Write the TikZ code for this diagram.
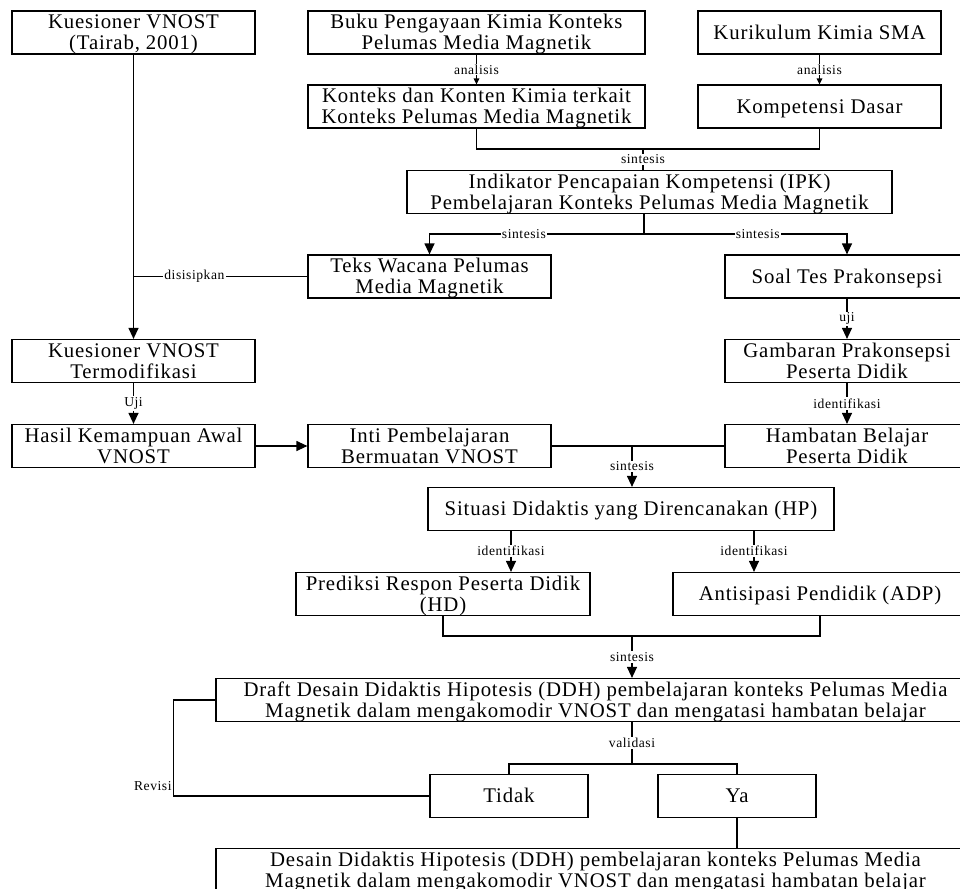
\documentclass[tikz,border=0pt]{standalone}
\usepackage{fontspec}
\setmainfont{Liberation Serif}[LetterSpace=4]
\usetikzlibrary{
    arrows.meta,
    positioning,
    calc
}
\tikzstyle{stage} = [
    rectangle,
    draw=black,
    line width=0.6pt,
    minimum height=21.5pt,
    inner sep=0pt,
    align=center,
    text height=6.9pt,
    text depth=0pt,
    font=\fontsize{10.4}{10.5}\selectfont
]
\tikzstyle{pair} = [
    text height=17.4pt
]
\tikzstyle{arrow} = [
    -{Triangle[length=5.5pt,width=5pt]},
    line width=0.6pt,
    draw=black
]
\tikzstyle{smallarrow} = [
    -{Triangle[length=3pt,width=2.8pt]},
    line width=0.6pt,
    draw=black
]
\tikzstyle{link} = [
    line width=0.6pt,
    draw=black
]
\tikzstyle{tag} = [
    fill=white,
    inner sep=0.6pt,
    font=\fontsize{6.8}{6.8}\selectfont
]
\begin{document}
\begin{tikzpicture}[x=0.5pt, y=-0.5pt]
    \useasboundingbox (0,0) rectangle (960,889);
    \clip (0,0) rectangle (960,889);
    % top row
    \node[stage, pair, minimum width=121.5pt] (kuesioner) at (133.5,32.5) {Kuesioner VNOST\\(Tairab, 2001)};
    \node[stage, pair, minimum width=168.5pt] (buku) at (476.5,32.5) {Buku Pengayaan Kimia Konteks\\Pelumas Media Magnetik};
    \node[stage, minimum width=121.5pt] (kurikulum) at (819.5,32.5) {Kurikulum Kimia SMA};
    \node[stage, pair, minimum width=168.5pt] (konten) at (476.5,106.5) {Konteks dan Konten Kimia terkait\\Konteks Pelumas Media Magnetik};
    \node[stage, minimum width=121.5pt] (kd) at (819.5,106.5) {Kompetensi Dasar};
    \node[stage, pair, minimum width=242.5pt] (ipk) at (649.5,192) {Indikator Pencapaian Kompetensi (IPK)\\Pembelajaran Konteks Pelumas Media Magnetik};
    % middle
    \node[stage, pair, minimum width=121.5pt] (wacana) at (429.5,276.5) {Teks Wacana Pelumas\\Media Magnetik};
    \node[stage, minimum width=122pt] (soal) at (847,276.5) {Soal Tes Prakonsepsi};
    \node[stage, pair, minimum width=121.5pt] (modif) at (133.5,361) {Kuesioner VNOST\\Termodifikasi};
    \node[stage, pair, minimum width=122pt] (gambaran) at (847,361) {Gambaran Prakonsepsi\\Peserta Didik};
    \node[stage, pair, minimum width=121.5pt] (hasil) at (133.5,446) {Hasil Kemampuan Awal\\VNOST};
    \node[stage, pair, minimum width=121.5pt] (inti) at (429.5,446) {Inti Pembelajaran\\Bermuatan VNOST};
    \node[stage, pair, minimum width=122pt] (hambatan) at (847,446) {Hambatan Belajar\\Peserta Didik};
    % lower part
    \node[stage, minimum width=203pt] (situasi) at (631,509) {Situasi Didaktis yang Direncanakan (HP)};
    \node[stage, pair, minimum width=147pt] (prediksi) at (443,594) {Prediksi Respon Peserta Didik\\(HD)};
    \node[stage, minimum width=147pt] (antisipasi) at (820,594) {Antisipasi Pendidik (ADP)};
    \node[stage, pair, minimum width=379.5pt] (draft) at (595.5,700) {Draft Desain Didaktis Hipotesis (DDH) pembelajaran konteks Pelumas Media\\Magnetik dalam mengakomodir VNOST dan mengatasi hambatan belajar};
    \node[stage, minimum width=79pt] (tidak) at (509,796) {Tidak};
    \node[stage, minimum width=79pt] (ya) at (737,796) {Ya};
    \node[stage, pair, minimum width=379.5pt] (desain) at (595.5,870) {Desain Didaktis Hipotesis (DDH) pembelajaran konteks Pelumas Media\\Magnetik dalam mengakomodir VNOST dan mengatasi hambatan belajar};

    \coordinate (join1) at (643,149);
    \coordinate (split1) at (644,234);
    \coordinate (join2) at (632,446);
    \coordinate (hpL) at (511,530);
    \coordinate (hpR) at (754,530);
    \coordinate (join3) at (632,636);
    \coordinate (split2) at (632,764);

    % connectors
    \draw[arrow] (kuesioner.south) -- (modif.north);
    \draw[link] (wacana.west) -- node[tag, pos=0.65] {disisipkan} (wacana.west -| kuesioner.south);
    \draw[smallarrow] (buku.south) -- node[tag] {analisis} (konten.north);
    \draw[smallarrow] (kurikulum.south) -- node[tag] {analisis} (kd.north);
    \draw[link] (konten.south) |- (join1) -| (kd.south);
    \draw[link] (join1) -- node[tag] {sintesis} (join1 |- ipk.north);
    \draw[link] (ipk.south -| split1) -- (split1);
    \draw[arrow] (split1) -| node[tag, pos=0.28] {sintesis} (wacana.north);
    \draw[arrow] (split1) -| node[tag, pos=0.28] {sintesis} (soal.north);
    \draw[arrow] (soal.south) -- node[tag] {uji} (gambaran.north);
    \draw[arrow] (modif.south) -- node[tag] {Uji} (hasil.north);
    \draw[arrow] (gambaran.south) -- node[tag] {identifikasi} (hambatan.north);
    \draw[arrow] (hasil.east) -- (inti.west);
    \draw[link] (inti.east) -- (hambatan.west);
    \draw[arrow] (join2) -- node[tag] {sintesis} (join2 |- situasi.north);
    \draw[arrow] (hpL) -- node[tag] {identifikasi} (hpL |- prediksi.north);
    \draw[arrow] (hpR) -- node[tag] {identifikasi} (hpR |- antisipasi.north);
    \draw[link] (prediksi.south) |- (join3) -| (antisipasi.south);
    \draw[arrow] (join3) -- node[tag] {sintesis} (join3 |- draft.north);
    \draw[link] (draft.south -| split2) -- node[tag] {validasi} (split2);
    \draw[link] (split2) -| (tidak.north);
    \draw[link] (split2) -| (ya.north);
    \draw[link] (tidak.west) -- ++(-256,0) |- node[tag, pos=0.05, left] {Revisi} (draft.west);
    \draw[link] (ya.south) -- (ya.south |- desain.north);
\end{tikzpicture}
\end{document}
